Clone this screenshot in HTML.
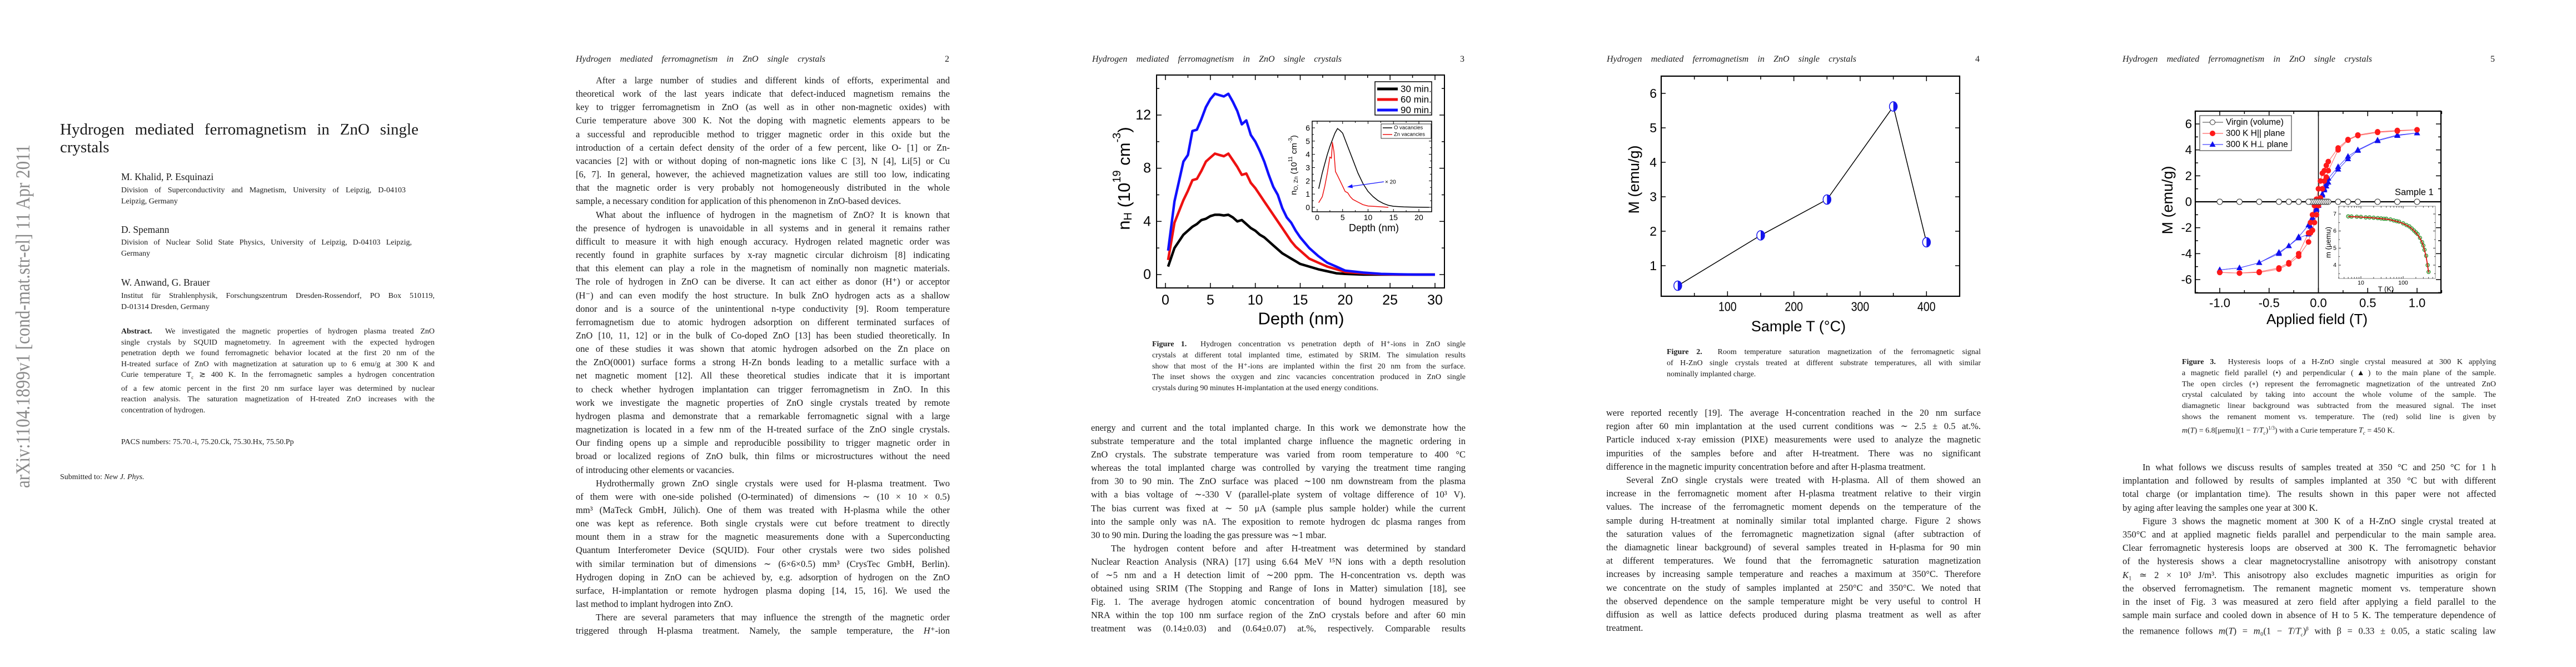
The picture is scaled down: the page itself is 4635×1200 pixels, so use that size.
<!DOCTYPE html>
<html><head><meta charset="utf-8">
<style>
html,body{margin:0;padding:0}
body{width:4635px;height:1200px;position:relative;background:#fff;overflow:hidden;font-family:"Liberation Serif","DejaVu Serif",serif;color:#1a1a1a}
.blk{position:absolute}
.blk .l{text-align:justify;text-align-last:justify;white-space:nowrap;overflow:visible}
.blk .e{text-align:left;text-align-last:left;white-space:nowrap}
.blk .i{padding-left:36px}
.hd{position:absolute;font-style:italic;font-size:16px;line-height:20px;text-align:justify;text-align-last:justify;white-space:nowrap}
.pn{position:absolute;font-size:16px;line-height:20px}
.t{position:absolute;white-space:nowrap}
svg text{font-family:"Liberation Sans",Arial,sans-serif}
</style></head>
<body>

<!-- PAGE 1 -->
<svg class="t" style="left:0;top:0" width="80" height="1200">
<text x="0" y="0" transform="translate(53,878) rotate(-90)" textLength="618" lengthAdjust="spacingAndGlyphs" font-size="36" fill="#8a8a8a" style="font-family:'Liberation Serif',serif">arXiv:1104.1899v1  [cond-mat.str-el]  11 Apr 2011</text>
</svg>
<div class="blk" style="left:108px;top:217px;width:645px;font-size:29px;line-height:32px">
<div class="l">Hydrogen mediated ferromagnetism in ZnO single</div><div class="e">crystals</div></div>
<div class="t" style="left:218px;top:307px;font-size:17.5px;line-height:22px">M. Khalid, P. Esquinazi</div>
<div class="blk" style="left:218px;top:333px;width:512px;font-size:14px;line-height:19.6px">
<div class="l">Division of Superconductivity and Magnetism, University of Leipzig, D-04103</div><div class="e">Leipzig, Germany</div></div>
<div class="t" style="left:218px;top:402px;font-size:17.5px;line-height:22px">D. Spemann</div>
<div class="blk" style="left:218px;top:427px;width:523px;font-size:14px;line-height:19.6px">
<div class="l">Division of Nuclear Solid State Physics, University of Leipzig, D-04103 Leipzig,</div><div class="e">Germany</div></div>
<div class="t" style="left:218px;top:497px;font-size:17.5px;line-height:22px">W. Anwand, G. Brauer</div>
<div class="blk" style="left:218px;top:523px;width:564px;font-size:14px;line-height:19.6px">
<div class="l">Institut für Strahlenphysik, Forschungszentrum Dresden-Rossendorf, PO Box 510119,</div><div class="e">D-01314 Dresden, Germany</div></div>
<div class="blk" style="left:218px;top:587px;width:564px;font-size:14px;line-height:19.6px">
<div class="l"><b>Abstract.</b>&nbsp; We investigated the magnetic properties of hydrogen plasma treated ZnO</div>
<div class="l">single crystals by SQUID magnetometry. In agreement with the expected hydrogen</div>
<div class="l">penetration depth we found ferromagnetic behavior located at the first 20 nm of the</div>
<div class="l">H-treated surface of ZnO with magnetization at saturation up to 6 emu/g at 300 K and</div>
<div class="l">Curie temperature T<sub style="font-size:9px">c</sub> ≳ 400 K. In the ferromagnetic samples a hydrogen concentration</div>
<div class="l">of a few atomic percent in the first 20 nm surface layer was determined by nuclear</div>
<div class="l">reaction analysis. The saturation magnetization of H-treated ZnO increases with the</div>
<div class="e">concentration of hydrogen.</div></div>
<div class="t" style="left:218px;top:786px;font-size:14px;line-height:20px">PACS numbers: 75.70.-i, 75.20.Ck, 75.30.Hx, 75.50.Pp</div>
<div class="t" style="left:108px;top:849px;font-size:14px;line-height:20px">Submitted to: <i>New J. Phys.</i></div>

<!-- PAGE 2 -->
<div class="hd" style="left:1036px;top:97px;width:449px">Hydrogen mediated ferromagnetism in ZnO single crystals</div>
<div class="pn" style="left:1700px;top:97px">2</div>
<div class="blk" style="left:1036px;top:133px;width:673px;font-size:16.5px;line-height:24.15px">
<div class="l i">After a large number of studies and different kinds of efforts, experimental and</div>
<div class="l">theoretical work of the last years indicate that defect-induced magnetism remains the</div>
<div class="l">key to trigger ferromagnetism in ZnO (as well as in other non-magnetic oxides) with</div>
<div class="l">Curie temperature above 300 K. Not the doping with magnetic elements appears to be</div>
<div class="l">a successful and reproducible method to trigger magnetic order in this oxide but the</div>
<div class="l">introduction of a certain defect density of the order of a few percent, like O- [1] or Zn-</div>
<div class="l">vacancies [2] with or without doping of non-magnetic ions like C [3], N [4], Li[5] or Cu</div>
<div class="l">[6, 7]. In general, however, the achieved magnetization values are still too low, indicating</div>
<div class="l">that the magnetic order is very probably not homogeneously distributed in the whole</div>
<div class="e">sample, a necessary condition for application of this phenomenon in ZnO-based devices.</div>
<div class="l i">What about the influence of hydrogen in the magnetism of ZnO? It is known that</div>
<div class="l">the presence of hydrogen is unavoidable in all systems and in general it remains rather</div>
<div class="l">difficult to measure it with high enough accuracy. Hydrogen related magnetic order was</div>
<div class="l">recently found in graphite surfaces by x-ray magnetic circular dichroism [8] indicating</div>
<div class="l">that this element can play a role in the magnetism of nominally non magnetic materials.</div>
<div class="l">The role of hydrogen in ZnO can be diverse. It can act either as donor (H⁺) or acceptor</div>
<div class="l">(H⁻) and can even modify the host structure. In bulk ZnO hydrogen acts as a shallow</div>
<div class="l">donor and is a source of the unintentional n-type conductivity [9]. Room temperature</div>
<div class="l">ferromagnetism due to atomic hydrogen adsorption on different terminated surfaces of</div>
<div class="l">ZnO [10, 11, 12] or in the bulk of Co-doped ZnO [13] has been studied theoretically. In</div>
<div class="l">one of these studies it was shown that atomic hydrogen adsorbed on the Zn place on</div>
<div class="l">the ZnO(0001) surface forms a strong H-Zn bonds leading to a metallic surface with a</div>
<div class="l">net magnetic moment [12]. All these theoretical studies indicate that it is important</div>
<div class="l">to check whether hydrogen implantation can trigger ferromagnetism in ZnO. In this</div>
<div class="l">work we investigate the magnetic properties of ZnO single crystals treated by remote</div>
<div class="l">hydrogen plasma and demonstrate that a remarkable ferromagnetic signal with a large</div>
<div class="l">magnetization is located in a few nm of the H-treated surface of the ZnO single crystals.</div>
<div class="l">Our finding opens up a simple and reproducible possibility to trigger magnetic order in</div>
<div class="l">broad or localized regions of ZnO bulk, thin films or microstructures without the need</div>
<div class="e">of introducing other elements or vacancies.</div>
<div class="l i">Hydrothermally grown ZnO single crystals were used for H-plasma treatment. Two</div>
<div class="l">of them were with one-side polished (O-terminated) of dimensions ∼ (10 × 10 × 0.5)</div>
<div class="l">mm³ (MaTeck GmbH, Jülich). One of them was treated with H-plasma while the other</div>
<div class="l">one was kept as reference. Both single crystals were cut before treatment to directly</div>
<div class="l">mount them in a straw for the magnetic measurements done with a Superconducting</div>
<div class="l">Quantum Interferometer Device (SQUID). Four other crystals were two sides polished</div>
<div class="l">with similar termination but of dimensions ∼ (6×6×0.5) mm³ (CrysTec GmbH, Berlin).</div>
<div class="l">Hydrogen doping in ZnO can be achieved by, e.g. adsorption of hydrogen on the ZnO</div>
<div class="l">surface, H-implantation or remote hydrogen plasma doping [14, 15, 16]. We used the</div>
<div class="e">last method to implant hydrogen into ZnO.</div>
<div class="l i">There are several parameters that may influence the strength of the magnetic order</div>
<div class="l">triggered through H-plasma treatment. Namely, the sample temperature, the <i>H</i>⁺-ion</div>
</div>

<!-- PAGE 3 -->
<div class="hd" style="left:1965px;top:97px;width:449px">Hydrogen mediated ferromagnetism in ZnO single crystals</div>
<div class="pn" style="left:2627px;top:97px">3</div>
<div class="blk" style="left:2073px;top:610px;width:564px;font-size:14px;line-height:19.8px">
<div class="l"><b>Figure 1.</b>&nbsp; Hydrogen concentration vs penetration depth of H⁺-ions in ZnO single</div>
<div class="l">crystals at different total implanted time, estimated by SRIM. The simulation results</div>
<div class="l">show that most of the H⁺-ions are implanted within the first 20 nm from the surface.</div>
<div class="l">The inset shows the oxygen and zinc vacancies concentration produced in ZnO single</div>
<div class="e">crystals during 90 minutes H-implantation at the used energy conditions.</div></div>
<div class="blk" style="left:1963px;top:758px;width:674px;font-size:16.5px;line-height:24.1px">
<div class="l">energy and current and the total implanted charge. In this work we demonstrate how the</div>
<div class="l">substrate temperature and the total implanted charge influence the magnetic ordering in</div>
<div class="l">ZnO crystals. The substrate temperature was varied from room temperature to 400 °C</div>
<div class="l">whereas the total implanted charge was controlled by varying the treatment time ranging</div>
<div class="l">from 30 to 90 min. The ZnO surface was placed ∼100 nm downstream from the plasma</div>
<div class="l">with a bias voltage of ∼-330 V (parallel-plate system of voltage difference of 10³ V).</div>
<div class="l">The bias current was fixed at ∼ 50 μA (sample plus sample holder) while the current</div>
<div class="l">into the sample only was nA. The exposition to remote hydrogen dc plasma ranges from</div>
<div class="e">30 to 90 min. During the loading the gas pressure was ∼1 mbar.</div>
<div class="l i">The hydrogen content before and after H-treatment was determined by standard</div>
<div class="l">Nuclear Reaction Analysis (NRA) [17] using 6.64 MeV ¹⁵N ions with a depth resolution</div>
<div class="l">of ∼5 nm and a H detection limit of ∼200 ppm. The H-concentration vs. depth was</div>
<div class="l">obtained using SRIM (The Stopping and Range of Ions in Matter) simulation [18], see</div>
<div class="l">Fig. 1. The average hydrogen atomic concentration of bound hydrogen measured by</div>
<div class="l">NRA within the top 100 nm surface region of the ZnO crystals before and after 60 min</div>
<div class="l">treatment was (0.14±0.03) and (0.64±0.07) at.%, respectively. Comparable results</div>
</div>

<!-- PAGE 4 -->
<div class="hd" style="left:2891px;top:97px;width:449px">Hydrogen mediated ferromagnetism in ZnO single crystals</div>
<div class="pn" style="left:3554px;top:97px">4</div>
<div class="blk" style="left:2999px;top:624px;width:565px;font-size:14px;line-height:20px">
<div class="l"><b>Figure 2.</b>&nbsp; Room temperature saturation magnetization of the ferromagnetic signal</div>
<div class="l">of H-ZnO single crystals treated at different substrate temperatures, all with similar</div>
<div class="e">nominally implanted charge.</div></div>
<div class="blk" style="left:2890px;top:731px;width:674px;font-size:16.5px;line-height:24.2px">
<div class="l">were reported recently [19]. The average H-concentration reached in the 20 nm surface</div>
<div class="l">region after 60 min implantation at the used current conditions was ∼ 2.5 ± 0.5 at.%.</div>
<div class="l">Particle induced x-ray emission (PIXE) measurements were used to analyze the magnetic</div>
<div class="l">impurities of the samples before and after H-treatment. There was no significant</div>
<div class="e">difference in the magnetic impurity concentration before and after H-plasma treatment.</div>
<div class="l i">Several ZnO single crystals were treated with H-plasma. All of them showed an</div>
<div class="l">increase in the ferromagnetic moment after H-plasma treatment relative to their virgin</div>
<div class="l">values. The increase of the ferromagnetic moment depends on the temperature of the</div>
<div class="l">sample during H-treatment at nominally similar total implanted charge. Figure 2 shows</div>
<div class="l">the saturation values of the ferromagnetic magnetization signal (after subtraction of</div>
<div class="l">the diamagnetic linear background) of several samples treated in H-plasma for 90 min</div>
<div class="l">at different temperatures. We found that the ferromagnetic saturation magnetization</div>
<div class="l">increases by increasing sample temperature and reaches a maximum at 350°C. Therefore</div>
<div class="l">we concentrate on the study of samples implanted at 250°C and 350°C. We noted that</div>
<div class="l">the observed dependence on the sample temperature might be very useful to control H</div>
<div class="l">diffusion as well as lattice defects produced during plasma treatment as well as after</div>
<div class="e">treatment.</div>
</div>

<!-- PAGE 5 -->
<div class="hd" style="left:3819px;top:97px;width:449px">Hydrogen mediated ferromagnetism in ZnO single crystals</div>
<div class="pn" style="left:4481px;top:97px">5</div>
<div class="blk" style="left:3926px;top:642px;width:565px;font-size:14px;line-height:19.8px">
<div class="l"><b>Figure 3.</b>&nbsp; Hysteresis loops of a H-ZnO single crystal measured at 300 K applying</div>
<div class="l">a magnetic field parallel (•) and perpendicular (▲) to the main plane of the sample.</div>
<div class="l">The open circles (∘) represent the ferromagnetic magnetization of the untreated ZnO</div>
<div class="l">crystal calculated by taking into account the whole volume of the sample. The</div>
<div class="l">diamagnetic linear background was subtracted from the measured signal. The inset</div>
<div class="l">shows the remanent moment vs. temperature. The (red) solid line is given by</div>
<div class="e"><i>m</i>(<i>T</i>) = 6.8[μemu](1 − <i>T</i>/<i>T<sub style="font-size:9px">c</sub></i>)<sup style="font-size:9px">1/3</sup>) with a Curie temperature <i>T<sub style="font-size:9px">c</sub></i> = 450 K.</div></div>
<div class="blk" style="left:3819px;top:829px;width:672px;font-size:16.5px;line-height:24.2px">
<div class="l i">In what follows we discuss results of samples treated at 350 °C and 250 °C for 1 h</div>
<div class="l">implantation and followed by results of samples implanted at 350 °C but with different</div>
<div class="l">total charge (or implantation time). The results shown in this paper were not affected</div>
<div class="e">by aging after leaving the samples one year at 300 K.</div>
<div class="l i">Figure 3 shows the magnetic moment at 300 K of a H-ZnO single crystal treated at</div>
<div class="l">350°C and at applied magnetic fields parallel and perpendicular to the main sample area.</div>
<div class="l">Clear ferromagnetic hysteresis loops are observed at 300 K. The ferromagnetic behavior</div>
<div class="l">of the hysteresis shows a clear magnetocrystalline anisotropy with anisotropy constant</div>
<div class="l"><i>K</i>₁ ≃ 2 × 10³ J/m³. This anisotropy also excludes magnetic impurities as origin for</div>
<div class="l">the observed ferromagnetism. The remanent magnetic moment vs. temperature shown</div>
<div class="l">in the inset of Fig. 3 was measured at zero field after applying a field parallel to the</div>
<div class="l">sample main surface and cooled down in absence of H to 5 K. The temperature dependence of</div>
<div class="l">the remanence follows <i>m</i>(<i>T</i>) = <i>m</i>₀(1 − <i>T</i>/<i>T</i><sub style="font-size:9px">c</sub>)<sup style="font-size:9px">β</sup> with β = 0.33 ± 0.05, a static scaling law</div>
</div>

<svg id="charts" width="4635" height="1200" style="position:absolute;left:0;top:0"></svg>

<script>
// ---------- Figure 1 data ----------
const depthNm = [0.3,1,2,2.5,3,3.5,4,4.5,5,5.5,6,6.5,7,7.5,8,8.5,9,9.5,10,10.5,11,11.5,12,12.5,13,13.5,14,14.5,15,16,17,18,19,20,22,24,26,28,30];
const nH30 = [0.6,2.0,3.0,3.3,3.6,3.8,4.1,4.2,4.4,4.5,4.5,4.45,4.5,4.3,4.0,4.1,3.8,3.5,3.3,3.0,2.8,2.5,2.2,1.9,1.6,1.4,1.2,1.0,0.8,0.6,0.4,0.25,0.1,0.05,0.0,0.0,0.0,0.0,0.0];
const nH60 = [1.1,3.9,5.6,6.3,7.1,7.2,7.8,8.5,8.8,9.1,9.0,8.9,9.1,8.6,8.1,7.5,7.6,6.9,6.5,6.0,5.5,5.0,4.5,4.0,3.5,3.0,2.5,2.1,1.8,1.2,0.9,0.6,0.4,0.2,0.1,0.03,0.0,0.0,0.0];
const nH90 = [1.8,5.5,8.5,9.0,10.8,10.9,11.7,12.6,13.2,13.6,13.5,13.4,13.6,13.0,12.3,11.3,11.6,10.5,10.0,9.3,8.5,7.5,6.6,6.0,5.0,4.3,3.9,3.3,2.8,2.0,1.4,0.9,0.6,0.3,0.15,0.05,0.02,0.0,0.0];
const seriesNames1 = ["30 min.","60 min.","90 min."];
const xTicks1 = [0,5,10,15,20,25,30];
const yTicks1 = [0,4,8,12];
const vacDepthO = [0.3,1,2,2.5,3,3.5,4,4.5,5,6,7,8,9,10,11,12,13,14,15,17,20,22];
const vacO = [1.4,2.6,4.0,4.6,5.1,5.6,5.95,5.8,5.6,4.6,3.6,2.6,1.8,1.2,0.8,0.5,0.3,0.15,0.08,0.03,0.01,0.0];
const vacDepthZn = [0.3,1,1.5,2,2.5,2.8,3,3.3,3.6,4,4.5,5,5.5,6,6.5,7,8,9,10,12,14];
const vacZn = [0.35,0.8,1.6,2.6,3.8,3.7,4.9,4.2,2.7,2.4,2.0,1.6,1.2,1.1,0.8,0.6,0.4,0.2,0.1,0.05,0.0];
const insetXTicks1 = [0,5,10,15,20];
const insetYTicks1 = [0,1,2,3,4,5,6];
// ---------- Figure 2 data ----------
const sampleTemp = [25,150,250,350,400];
const satMag = [0.42,1.88,2.92,5.62,1.68];
const xTicks2 = [100,200,300,400];
const yTicks2 = [1,2,3,4,5,6];
// ---------- Figure 3 data ----------
const fieldT = [1.0,0.8,0.6,0.4,0.3,0.2,0.1,0.08,0.06,0.04,0.02,0,-0.02,-0.04,-0.06,-0.08,-0.1,-0.2,-0.3,-0.4,-0.6,-0.8,-1.0];
const virginM = [0,0,0,0,0,0,0,0,0,0,0,0,0,0,0,0,0,0,0,0,0,0,0];
const parDown = [5.55,5.5,5.4,5.15,4.8,4.15,3.1,2.8,2.4,2.2,1.6,1.0,0.2,-0.3,-1.0,-1.6,-2.4,-4.0,-4.7,-5.1,-5.4,-5.5,-5.45];
const parUp = [5.55,5.45,5.35,5.1,4.75,4.0,2.4,1.9,1.6,1.0,0.3,-0.3,-1.0,-1.6,-2.2,-2.4,-3.1,-4.2,-4.8,-5.2,-5.45,-5.5,-5.45];
const perpDown = [5.3,5.15,4.75,4.0,3.5,2.7,1.8,1.4,1.0,0.6,0.3,-0.2,-0.5,-0.9,-1.2,-1.5,-1.8,-2.7,-3.4,-3.9,-4.7,-5.1,-5.25];
const perpUp = [5.3,5.1,4.7,3.95,3.3,2.5,1.5,1.2,0.9,0.5,0.2,-0.3,-0.6,-1.0,-1.4,-1.9,-2.5,-2.8,-3.4,-4.0,-4.7,-5.1,-5.25];
const xTickLabels3 = ["-1.0","-0.5","0.0","0.5","1.0"];
const xTicks3 = [-1,-0.5,0,0.5,1];
const yTicks3 = [-6,-4,-2,0,2,4,6];
const legend3 = ["Virgin (volume)","300 K  H|| plane","300 K  H\u22A5 plane"];
const remT = [5,6,8,10,13,16,20,25,30,35,40,50,60,70,80,100,120,140,160,180,200,220,250,280,300,320,350,380,400];
const remM = [6.86,6.85,6.84,6.83,6.8,6.8,6.78,6.76,6.74,6.72,6.72,6.68,6.62,6.58,6.55,6.45,6.35,6.27,6.15,6.03,5.92,5.82,5.6,5.35,5.15,4.9,4.55,4.0,3.6];
const fitM = [6.85,6.84,6.83,6.82,6.8,6.79,6.77,6.75,6.73,6.71,6.7,6.66,6.61,6.57,6.53,6.44,6.34,6.25,6.14,6.02,5.9,5.78,5.58,5.33,5.13,4.88,4.5,3.95,3.57];
const insetXTicks3 = [10,100];
const insetYTicks3 = [4,5,6,7];

const NS = "http://www.w3.org/2000/svg";
const svg = document.getElementById('charts');
function mk(tag, parent){ const e=document.createElementNS(NS,tag); parent.appendChild(e); return e; }
function at(e,o){ for(const k in o) e.setAttribute(k,o[k]); return e; }
function lin(d0,d1,p0,p1){ return v=>p0+(v-d0)/(d1-d0)*(p1-p0); }
function txt(parent,x,y,s,size,anchor,extra){ const t=mk('text',parent); at(t,{x:x,y:y,'font-size':size,'text-anchor':anchor||'start','dominant-baseline':'central',fill:'#000'}); if(extra) at(t,extra); t.textContent=s; return t; }
function frame(g,x0,y0,x1,y1,w){ const r=mk('rect',g); at(r,{x:x0,y:y0,width:x1-x0,height:y1-y0,fill:'none',stroke:'#000','stroke-width':w}); return r; }
function tick(g,x1,y1,x2,y2,w){ const l=mk('line',g); at(l,{x1:x1,y1:y1,x2:x2,y2:y2,stroke:'#000','stroke-width':w}); return l; }
function poly(g,xs,ys,sx,sy,color,w){ const p=mk('polyline',g); at(p,{points:xs.map((v,i)=>sx(v).toFixed(1)+','+sy(ys[i]).toFixed(1)).join(' '),fill:'none',stroke:color,'stroke-width':w,'stroke-linejoin':'round'}); return p; }

// ================= FIGURE 1 =================
(function(){
  const g=mk('g',svg);
  
  
  const X0=2081,X1=2599,Y0=135,Y1=518;
  const sx=lin(0,30,2097,2582), sy=lin(0,12,494,207);
  frame(g,X0,Y0,X1,Y1,2);
  for(let v=0; v<=30; v+=2.5){ const maj=v%5===0, L=maj?9:5; tick(g,sx(v),Y1,sx(v),Y1-L,1.5); tick(g,sx(v),Y0,sx(v),Y0+L,1.5); }
  for(let v=0; v<=14; v+=2){ const maj=v%4===0, L=maj?9:5; tick(g,X0,sy(v),X0+L,sy(v),1.5); tick(g,X1,sy(v),X1-L,sy(v),1.5); }
  xTicks1.forEach(v=>{ const t=txt(g,sx(v),540,String(v),25,'middle');   });
  yTicks1.forEach(v=>{ const t=txt(g,2071,sy(v),String(v),25,'end');   });
  const xt=txt(g,2341,573,'Depth (nm)',31,'middle');
  
  
  const yt=mk('text',g); at(yt,{x:0,y:0,'font-size':31,'text-anchor':'middle','dominant-baseline':'central',transform:'translate(2022,321) rotate(-90)'});
  yt.innerHTML='n<tspan font-size="20" dy="8">H</tspan><tspan dy="-8"> (10</tspan><tspan font-size="20" dy="-12">19</tspan><tspan dy="12"> cm</tspan><tspan font-size="20" dy="-12">-3</tspan><tspan dy="12">)</tspan>';
  
  
  const cols=['#000','#ee1111','#1111ff'], ser=[nH30,nH60,nH90];
  ser.forEach((s,i)=>{ const p=poly(g,depthNm,s,sx,sy,cols[i],4.5);   });
  const lg=mk('g',g);
  
  
  at(mk('rect',lg),{x:2474,y:147,width:102,height:60,fill:'#fff',stroke:'#000','stroke-width':1.5});
  seriesNames1.forEach((n,i)=>{ const y=160+i*19; const l=mk('line',lg); at(l,{x1:2478,y1:y,x2:2515,y2:y,stroke:cols[i],'stroke-width':5});   const t=txt(lg,2520,y,n,17,'start');   });
  const ig=mk('g',g);
  
  
  const IX0=2361,IX1=2576,IY0=218,IY1=381;
  const ix=lin(0,20,2370,2553), iy=lin(0,6,373,230);
  at(mk('rect',ig),{x:IX0,y:IY0,width:IX1-IX0,height:IY1-IY0,fill:'#fff'});
  frame(ig,IX0,IY0,IX1,IY1,1.5);
  for(let v=0; v<=22.5; v+=2.5){ const L=v%5===0?5:3; if(ix(v)<IX1){ tick(ig,ix(v),IY1,ix(v),IY1-L,1); tick(ig,ix(v),IY0,ix(v),IY0+L,1);} }
  for(let v=0; v<=6.5; v+=0.5){ const L=v%1===0?5:3; tick(ig,IX0,iy(v),IX0+L,iy(v),1); tick(ig,IX1,iy(v),IX1-L,iy(v),1); }
  insetXTicks1.forEach(v=>{ const t=txt(ig,ix(v),391,String(v),14,'middle');   });
  insetYTicks1.forEach(v=>{ const t=txt(ig,2357,iy(v),String(v),14,'end');   });
  const ixt=txt(ig,2472,410,'Depth (nm)',18,'middle');
  
  
  const iyt=mk('text',ig); at(iyt,{x:0,y:0,'font-size':15,'text-anchor':'middle','dominant-baseline':'central',transform:'translate(2328,297) rotate(-90)'});
  iyt.innerHTML='n<tspan font-size="10" dy="4">O, Zn</tspan><tspan dy="-4"> (10</tspan><tspan font-size="10" dy="-6">11</tspan><tspan dy="6"> cm</tspan><tspan font-size="10" dy="-6">-3</tspan><tspan dy="6">)</tspan>';
  
  
  const po=poly(ig,vacDepthO,vacO,ix,iy,'#000',1.5);
  
  
  const pz=poly(ig,vacDepthZn,vacZn,ix,iy,'#ee1111',1.5);
  
  
  at(mk('rect',ig),{x:2485,y:223,width:90,height:26,fill:'#fff',stroke:'#000','stroke-width':0.8});
  at(mk('line',ig),{x1:2488,y1:230,x2:2505,y2:230,stroke:'#000','stroke-width':1.5});
  at(mk('line',ig),{x1:2488,y1:242,x2:2505,y2:242,stroke:'#ee1111','stroke-width':1.5});
  const l1=txt(ig,2508,230,'O    vacancies',9.5,'start');  
  const l2=txt(ig,2508,242,'Zn vacancies',9.5,'start');  
  const ar=mk('line',ig); at(ar,{x1:2490,y1:327,x2:2430,y2:335.5,stroke:'#1111ff','stroke-width':1.2});
  
  
  at(mk('polygon',ig),{points:'2424,336.5 2433,331.5 2434,338.5',fill:'#1111ff'});
  const x20=txt(ig,2492,328,'× 20',10,'start');
  
  
})();

// ================= FIGURE 2 =================
(function(){
  const g=mk('g',svg);
  
  
  const X0=2989,X1=3526,Y0=137,Y1=533;
  const sx=lin(0,450,2989,3526), sy=lin(1,6,478,168);
  frame(g,X0,Y0,X1,Y1,2.2);
  for(let v=50; v<450; v+=50){ const L=v%100===0?9:6; tick(g,sx(v),Y1,sx(v),Y1-L,1.5); tick(g,sx(v),Y0,sx(v),Y0+L,1.5); }
  for(let v=1; v<=6; v+=1){ tick(g,X0,sy(v),X0+8,sy(v),1.5); tick(g,X1,sy(v),X1-8,sy(v),1.5); }
  xTicks2.forEach(v=>{ const t=txt(g,sx(v),552,String(v),23,'middle',{transform:'translate('+sx(v)+',552) scale(0.85,1) translate('+(-sx(v))+',-552)'});   });
  yTicks2.forEach(v=>{ const t=txt(g,2981,sy(v),String(v),23,'end');   });
  const xt=txt(g,3236,587,'Sample T (°C)',27,'middle');
  
  
  const yt=txt(g,0,0,'M (emu/g)',27,'middle',{transform:'translate(2940,323) rotate(-90)'});
  
  
  const p=poly(g,sampleTemp,satMag,sx,sy,'#000',1.5);
  
  
  sampleTemp.forEach((t,i)=>{
    const cx=sx(t), cy=sy(satMag[i]);
    const m=mk('g',g);
    
    
    at(mk('ellipse',m),{cx:cx,cy:cy,rx:7,ry:8.5,fill:'#fff',stroke:'#1515ee','stroke-width':1.5});
    at(mk('path',m),{d:'M'+cx+','+(cy-8.5)+' A7,8.5 0 0 1 '+cx+','+(cy+8.5)+' Z',fill:'#1515ee'});
  });
})();

// ================= FIGURE 3 =================
(function(){
  const g=mk('g',svg);
  
  
  const X0=3950,X1=4392,Y0=200,Y1=527;
  const sx=lin(-1,1,3994,4349), sy=lin(0,6,363,223);
  frame(g,X0,Y0,X1,Y1,2.2);
  for(let v=-1.25; v<=1.25; v+=0.25){ const maj=Math.abs(v*2-Math.round(v*2))<1e-6, L=maj?9:5; tick(g,sx(v),Y1,sx(v),Y1-L,1.5); tick(g,sx(v),Y0,sx(v),Y0+L,1.5); }
  for(let v=-7; v<=7; v+=1){ const L=v%2===0?9:5; tick(g,X0,sy(v),X0+L,sy(v),1.5); tick(g,X1,sy(v),X1-L,sy(v),1.5); }
  xTicks3.forEach((v,i)=>{ const t=txt(g,sx(v),545,xTickLabels3[i],22,'middle');   });
  yTicks3.forEach(v=>{ const t=txt(g,3944,sy(v),String(v),22,'end');   });
  const xt=txt(g,4169,574,'Applied field (T)',26,'middle');
  
  
  const yt=txt(g,0,0,'M (emu/g)',27,'middle',{transform:'translate(3900,360) rotate(-90)'});
  
  
  tick(g,sx(0),Y0,sx(0),Y1,1.5);
  tick(g,X0,sy(0),X1,sy(0),2.2);
  const red='#ff1a1a', blue='#1010ee';
  [parDown,parUp].forEach(s=>{ const p=poly(g,fieldT,s,sx,sy,'#ff6060',1);   });
  [perpDown,perpUp].forEach(s=>{ const p=poly(g,fieldT,s,sx,sy,'#4040ff',1);   });
  [perpDown,perpUp].forEach(s=>fieldT.forEach((f,i)=>{ const x=sx(f), y=sy(s[i]); const t=mk('polygon',g); at(t,{points:x+','+(y-6)+' '+(x-5.5)+','+(y+4)+' '+(x+5.5)+','+(y+4),fill:blue});   }));
  [parDown,parUp].forEach(s=>fieldT.forEach((f,i)=>{ const c=mk('circle',g); at(c,{cx:sx(f),cy:sy(s[i]),r:5,fill:red});   }));
  fieldT.forEach((f,i)=>{ const c=mk('circle',g); at(c,{cx:sx(f),cy:sy(virginM[i]),r:5,fill:'#fff',stroke:'#333','stroke-width':1});   });
  const lg=mk('g',g);
  
  
  at(mk('rect',lg),{x:3958,y:208,width:165,height:63,fill:'#fff',stroke:'#555','stroke-width':1.3});
  const lc=['#666','#ff6060','#4040ff'];
  legend3.forEach((n,i)=>{
    const y=220+i*20;
    at(mk('line',lg),{x1:3963,y1:y,x2:4000,y2:y,stroke:lc[i],'stroke-width':1.2});
    if(i===0) at(mk('circle',lg),{cx:3981,cy:y,r:4.5,fill:'#fff',stroke:'#333'});
    if(i===1) at(mk('circle',lg),{cx:3981,cy:y,r:5,fill:red});
    if(i===2) at(mk('polygon',lg),{points:'3981,'+(y-6)+' 3975.5,'+(y+4)+' 3986.5,'+(y+4),fill:blue});
    const t=txt(lg,4005,y,n,15.5,'start');
    
    
  });
  const s1=txt(g,4309,346,'Sample 1',16.5,'start');
  
  
  const ig=mk('g',g);
  
  
  const IX0=4208,IX1=4382,IY0=371,IY1=501;
  const ix=v=>4248+(Math.log10(v)-1)*76, iy=lin(4,7,477,385);
  at(mk('rect',ig),{x:IX0,y:IY0,width:IX1-IX0,height:IY1-IY0,fill:'#fff',stroke:'#888','stroke-width':1});
  [3,4,5,6,7,8,9,10,20,30,40,50,60,70,80,90,100,200,300,400,500].forEach(v=>{ const x=ix(v); if(x>IX0&&x<IX1){ const L=(v===10||v===100)?4:2.5; tick(ig,x,IY1,x,IY1-L,0.8); tick(ig,x,IY0,x,IY0+L,0.8);} });
  for(let v=3.5; v<=7.5; v+=0.5){ const y=iy(v); if(y>IY0&&y<IY1){ tick(ig,IX0,y,IX0+(v%1===0?4:2),y,0.8); tick(ig,IX1,y,IX1-(v%1===0?4:2),y,0.8);} }
  insetXTicks3.forEach(v=>{ const t=txt(ig,ix(v),509,String(v),10.5,'middle');   });
  insetYTicks3.forEach(v=>{ const t=txt(ig,4204,iy(v),String(v),10.5,'end');   });
  const ixt=txt(ig,4293,520,'T (K)',13,'middle');
  
  
  const iyt=txt(ig,0,0,'m (\u03BCemu)',13,'middle',{transform:'translate(4189,436) rotate(-90)'});
  
  
  remT.forEach((t,i)=>{ const c=mk('circle',ig); at(c,{cx:ix(t),cy:iy(remM[i]),r:3.2,fill:'#5cb85c','fill-opacity':0.5,stroke:'#1e8a1e','stroke-width':1});   });
  const fl=poly(ig,remT,fitM,ix,iy,'#dd1111',1.8);
  
  
})();
</script>
</body></html>
